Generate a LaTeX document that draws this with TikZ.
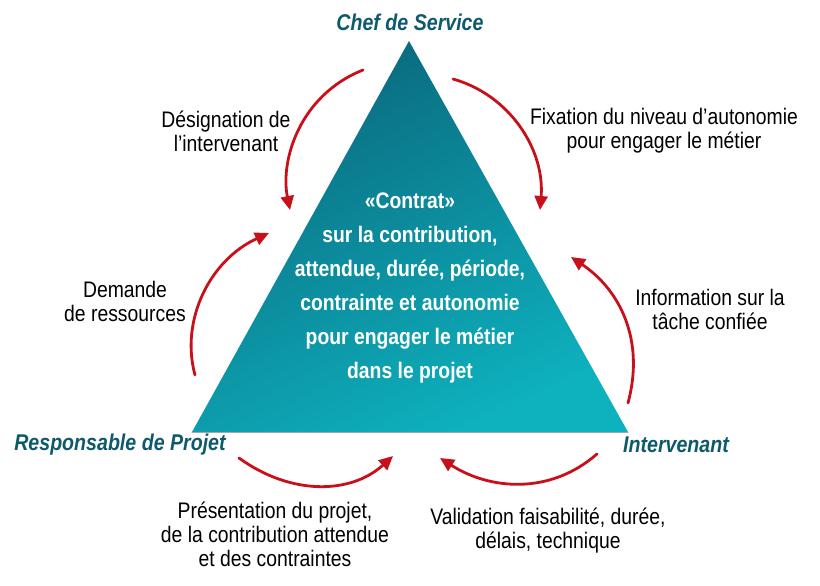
\documentclass[tikz,border=0pt]{standalone}
\usepackage{fontspec}
\setmainfont{Liberation Sans}[FakeStretch=0.86]
\usetikzlibrary{arrows.meta}
\definecolor{titreteal}{HTML}{0E5A6C}
\definecolor{tritop}{HTML}{0A687D}
\definecolor{tribot}{HTML}{0EB2BF}
\definecolor{flecherouge}{HTML}{C8101A}
\begin{document}
\begin{tikzpicture}[x=1pt,y=-1pt, font=\fontsize{22.5}{24}\selectfont, line join=round, line cap=round,
    fleche/.style={draw=flecherouge, line width=2.8pt, -{Triangle[length=14pt,width=13pt]}},
    titre/.style={font=\fontsize{22.8}{25}\selectfont\bfseries\itshape, text=titreteal},
    legende/.style={align=center, inner sep=0pt}]
    \useasboundingbox (0,0) rectangle (820,586);
    %\draw[color=gray!50,dashed] (0,0) grid[step=20] (820,586);
    \shade[top color=tritop, bottom color=tribot, shading angle=25] (409,41)--(192,432)--(628,432)--cycle;
    \draw[gray!70, line width=1pt] (192,432)--(628,432);
    \node[legende, text=white, font=\fontsize{22.5}{34}\selectfont\bfseries] (contrat) at (410,288)
        {«Contrat»\\ sur la contribution,\\ attendue, durée, période,\\ contrainte et autonomie\\ pour engager le métier\\ dans le projet};
    % sommets
    \node[titre] (chef) at (410,22) {Chef de Service};
    \node[titre] (resp) at (120,445) {Responsable de Projet};
    \node[titre] (interv) at (676,445) {Intervenant};
    % legendes
    \node[legende] (designation) at (226,131) {Désignation de\\ l’intervenant};
    \node[legende] (fixation) at (664,131) {Fixation du niveau d’autonomie\\ pour engager le métier};
    \node[legende] (demande) at (125,301) {Demande\\ de ressources};
    \node[legende] (information) at (710,309) {Information sur la\\ tâche confiée};
    \node[legende] (presentation) at (275,534) {Présentation du projet,\\ de la contribution attendue\\ et des contraintes};
    \node[legende] (validation) at (548,531) {Validation faisabilité, durée,\\ délais, technique};
    % fleches
    \coordinate (d1) at (363,70);  \coordinate (d2) at (290,210);
    \coordinate (f1) at (453,79);  \coordinate (f2) at (540,210);
    \coordinate (r1) at (195,375); \coordinate (r2) at (269,233);
    \coordinate (i1) at (628,403); \coordinate (i2) at (571,257);
    \coordinate (p1) at (239,458); \coordinate (p2) at (393,456);
    \coordinate (v1) at (597,454); \coordinate (v2) at (440,458);
    \draw[fleche] (d1) .. controls (300,95) and (280,160) .. (d2);
    \draw[fleche] (f1) .. controls (510,95) and (545,150) .. (f2);
    \draw[fleche] (r1) .. controls (180,320) and (210,260) .. (r2);
    \draw[fleche] (i1) .. controls (645,340) and (620,290) .. (i2);
    \draw[fleche] (p1) .. controls (290,495) and (350,495) .. (p2);
    \draw[fleche] (v1) .. controls (550,495) and (490,490) .. (v2);
\end{tikzpicture}
\end{document}
